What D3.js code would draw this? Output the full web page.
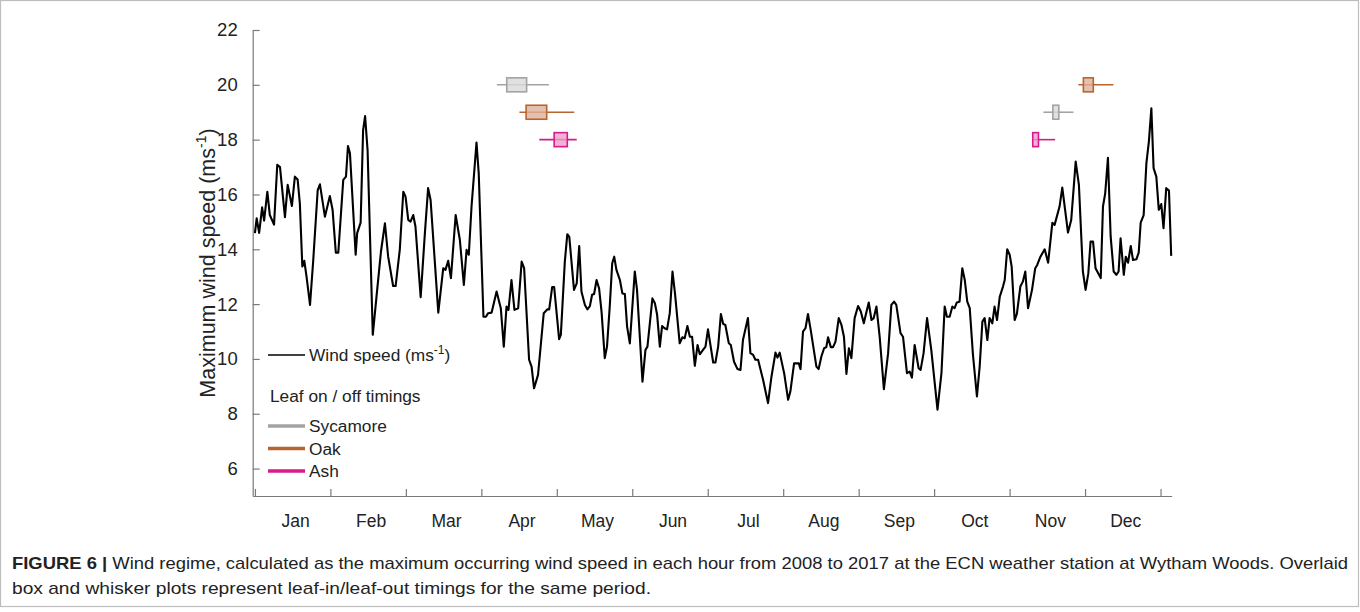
<!DOCTYPE html>
<html>
<head>
<meta charset="utf-8">
<script src="https://cdn.jsdelivr.net/npm/d3@7"></script>
<style>
  html, body { margin: 0; padding: 0; background: #fff; }
  svg { display: block; font-family: "Liberation Sans", Arial, Helvetica, sans-serif; }
</style>
</head>
<body>
<svg id="chart" width="1360" height="612"></svg>
<script>
// Day of year (from 1 Jan) and the maximum hourly wind speed (m/s)
const days = [0,0.7,1.7,2.9,3.7,5.0,6.0,7.7,9.0,10.1,12.1,13.2,14.9,16.1,17.2,18.1,19.1,19.9,20.8,22.2,
  23.5,25.3,26.2,28.2,30.2,31.3,32.6,33.6,35.6,36.7,37.5,38.3,40.6,41.2,42.6,43.6,44.4,45.4,47.5,49.0,
  50.8,52.4,53.7,55.7,56.7,58.4,59.8,60.7,61.8,62.7,63.8,64.7,66.8,68.5,69.8,70.8,73.9,75.9,76.8,77.9,
  79.0,80.9,82.6,84.2,85.3,86.2,87.3,89.3,90.2,92.1,93.1,94.0,95.4,97.4,99.1,100.3,101.4,102.2,103.4,104.6,
  106.1,107.5,108.5,110.5,111.5,112.5,114.1,116.4,117.9,118.6,119.8,120.6,122.6,123.3,124.9,125.9,126.7,128.6,129.7,130.7,
  131.6,133.0,134.0,135.0,135.9,136.7,137.7,138.7,139.7,141.0,141.9,143.0,144.0,144.8,145.7,147.1,148.1,149.1,150.0,151.1,
  153.1,154.0,156.2,157.4,158.2,160.2,161.2,162.1,163.2,164.1,165.1,166.1,167.2,168.3,169.3,171.2,172.3,173.2,174.3,175.3,
  176.2,177.3,178.4,179.3,180.6,181.6,182.6,184.7,185.6,186.7,187.8,188.7,189.6,191.0,191.8,193.1,194.5,195.7,196.7,198.7,
  199.7,200.8,201.7,202.8,204.8,206.8,208.2,209.8,210.6,211.5,213.3,214.9,215.8,217.3,218.2,219.2,219.9,220.9,221.9,222.9,
  224.0,226.3,227.2,228.3,229.4,230.3,231.0,232.1,233.0,234.0,235.3,236.4,237.4,238.4,239.4,240.4,241.7,243.1,244.2,245.4,
  246.2,247.4,248.5,249.4,250.5,251.8,253.5,255.2,256.5,257.6,258.5,260.2,261.2,262.8,263.9,264.8,265.9,267.5,268.3,269.5,
  270.9,272.6,275.1,276.7,278.0,278.9,280.0,281.1,282.0,282.9,284.0,285.1,286.1,287.1,288.1,289.4,291.0,292.1,293.2,294.1,
  295.2,296.1,297.2,298.1,299.1,300.2,301.5,302.2,303.2,304.2,305.0,306.2,307.1,308.5,309.5,310.5,311.6,313.2,314.5,315.3,
  316.6,318.3,319.7,321.4,322.3,324.3,325.4,327.7,329.0,330.8,332.1,333.7,334.8,335.9,336.8,337.8,338.8,340.9,341.8,342.7,
  343.8,344.9,346.1,347.2,348.1,348.9,350.2,351.0,351.9,353.0,353.9,355.3,356.2,357.0,358.2,359.3,360.3,361.3,362.2,363.3,
  364.3,365.3,366.2,367.3,368.4,369.3];
const windSpeed = [14.59,15.13,14.6,15.53,15.05,16.1,15.25,14.9,17.08,17.0,15.17,16.35,15.58,16.65,16.55,15.68,13.37,13.58,13.0,11.97,
  13.6,16.16,16.37,15.19,15.94,15.44,13.88,13.88,16.53,16.65,17.77,17.5,13.8,14.59,14.97,18.35,18.86,17.62,10.88,12.27,
  13.92,14.95,13.73,12.66,12.66,14.0,16.1,15.92,15.07,15.01,15.25,14.83,12.25,14.59,16.23,15.8,11.69,13.31,13.25,13.58,
  12.95,15.25,14.34,12.7,13.98,13.8,15.56,17.89,16.77,11.54,11.54,11.67,11.69,12.46,11.85,10.45,11.91,11.79,12.88,11.79,
  11.85,13.55,13.31,9.97,9.72,8.93,9.42,11.67,11.81,11.81,12.62,12.62,10.72,10.88,13.55,14.55,14.45,12.52,12.76,14.12,
  12.46,11.97,11.81,11.93,12.34,12.37,12.88,12.58,11.73,10.03,10.45,11.91,13.49,13.73,13.25,12.88,12.39,12.37,11.18,10.57,
  13.19,12.52,9.17,10.33,10.45,12.21,12.03,11.61,10.45,11.2,11.12,11.08,11.67,13.19,12.39,10.57,10.79,10.75,11.2,10.81,
  10.81,9.75,10.51,10.17,10.33,10.45,11.08,9.87,9.87,10.45,11.64,11.28,11.24,10.57,10.51,9.9,9.63,9.6,10.69,11.49,
  10.21,10.15,9.97,9.97,9.24,8.39,9.36,10.23,10.05,10.23,9.48,8.51,8.81,9.84,9.84,9.84,9.63,11.0,11.12,11.64,
  11.06,9.72,9.63,10.09,10.39,10.43,10.79,10.43,10.43,10.63,11.49,11.24,10.81,9.45,10.39,10.03,11.49,11.93,11.73,11.3,
  11.61,12.06,11.42,11.49,11.91,10.81,8.9,10.21,11.97,12.09,11.97,10.94,10.81,9.48,9.54,9.32,10.51,9.66,9.6,10.21,
  11.49,10.33,8.15,9.48,11.91,11.54,11.54,11.91,11.85,12.06,12.09,13.31,12.88,12.09,11.85,10.15,8.63,9.72,11.36,11.49,
  10.69,11.49,11.3,11.91,11.42,12.27,12.64,12.88,14.0,13.8,13.37,11.42,11.64,12.64,12.82,13.19,11.85,12.52,13.31,13.43,
  13.73,14.0,13.51,14.97,14.89,15.56,16.25,14.61,15.07,17.2,16.35,13.19,12.52,13.13,14.28,14.28,13.31,12.95,15.56,16.04,
  17.34,14.46,13.19,13.07,13.19,14.4,13.07,13.73,13.51,14.12,13.61,13.64,13.88,14.97,15.25,17.14,17.93,19.14,16.96,16.65,
  15.44,15.65,14.77,16.23,16.14,13.76];

// Month tick labels (equal-width months across the year)
const months = ["Jan","Feb","Mar","Apr","May","Jun","Jul","Aug","Sep","Oct","Nov","Dec"];
const yTicks = [6, 8, 10, 12, 14, 16, 18, 20, 22];

// Leaf-on / leaf-off box plots: species, row value, whisker min, Q1, Q3, whisker max (day of year)
const boxSpecies = ["Sycamore","Oak","Ash","Oak","Sycamore","Ash"];
const boxRow     = [20, 19, 18, 20, 19, 18];
const boxMin     = [97.5, 106.6, 114.6, 331.9, 317.8, 313.5];
const boxQ1      = [101.5, 109.3, 120.6, 333.9, 321.6, 313.5];
const boxQ3      = [109.5, 117.6, 125.9, 337.9, 324.0, 315.8];
const boxMax     = [118.5, 128.7, 129.7, 346.0, 329.9, 322.5];

const legendSpecies = ["Sycamore", "Oak", "Ash"];

const speciesStroke = { Sycamore: "#a3a3a3", Oak: "#b8642f", Ash: "#d81b8c" };
const speciesFill   = { Sycamore: "#d9d9d9", Oak: "#dcb29a", Ash: "#ef9fcb" };

const svg = d3.select("#chart");

// Figure frame
svg.append("rect")
  .attr("x", 0.5).attr("y", 0.5).attr("width", 1358).attr("height", 606)
  .attr("fill", "none").attr("stroke", "#bdbdbd").attr("stroke-width", 1.2);

const x = d3.scaleLinear().domain([-0.9, 369.5]).range([252.7, 1171.7]);
const y = d3.scaleLinear().domain([5, 22]).range([496, 30]);

const axisColor = "#7a7a7a";

// Y axis with inward ticks
const yAxis = svg.append("g")
  .attr("transform", `translate(${x(-0.9)},0)`)
  .call(d3.axisLeft(y).tickValues(yTicks).tickSize(-7).tickPadding(15).tickSizeOuter(0));
yAxis.select(".domain").attr("stroke", axisColor).attr("stroke-width", 1.2);
yAxis.selectAll(".tick line").attr("stroke", axisColor).attr("stroke-width", 1.2);
yAxis.selectAll(".tick text").attr("fill", "#222").style("font-size", "18.5px");

// X axis: month boundaries as inward ticks, month names centred between them
const monthLen = 365 / 12;
const xAxis = svg.append("g")
  .attr("transform", `translate(0,${y(5)})`)
  .call(d3.axisBottom(x).tickValues(d3.range(13).map(i => i * monthLen)).tickSize(-7).tickFormat("").tickSizeOuter(0));
xAxis.select(".domain").attr("stroke", axisColor).attr("stroke-width", 1.2);
xAxis.selectAll(".tick line").attr("stroke", axisColor).attr("stroke-width", 1.2);

svg.append("g").selectAll("text")
  .data(months)
  .join("text")
  .attr("x", (d, i) => x((i + 0.5) * monthLen) + 3)
  .attr("y", y(5) + 31)
  .attr("text-anchor", "middle")
  .attr("fill", "#222")
  .style("font-size", "17.5px")
  .text(d => d);

// Y axis title
const yTitle = svg.append("text")
  .attr("transform", `translate(215,${(y(5) + y(22)) / 2}) rotate(-90)`)
  .attr("text-anchor", "middle")
  .attr("fill", "#222")
  .style("font-size", "21.5px");
yTitle.append("tspan").text("Maximum wind speed (ms");
yTitle.append("tspan").attr("dy", -9).style("font-size", "14px").text("-1");
yTitle.append("tspan").attr("dy", 9).text(")");

// Wind speed line
const series = days.map((d, i) => ({ day: d, value: windSpeed[i] }));
svg.append("path")
  .datum(series)
  .attr("fill", "none")
  .attr("stroke", "#000")
  .attr("stroke-width", 2.1)
  .attr("stroke-linejoin", "round")
  .attr("d", d3.line().x(d => x(d.day)).y(d => y(d.value)));

// Box and whisker plots of leaf timing
const boxes = boxSpecies.map((s, i) => ({
  species: s, row: boxRow[i], min: boxMin[i], q1: boxQ1[i], q3: boxQ3[i], max: boxMax[i]
}));
const bh = 7;
const bg = svg.append("g");
boxes.forEach(b => {
  bg.append("line")
    .attr("x1", x(b.min)).attr("x2", x(b.max))
    .attr("y1", y(b.row)).attr("y2", y(b.row))
    .attr("stroke", speciesStroke[b.species]).attr("stroke-width", 1.6);
  bg.append("rect")
    .attr("x", x(b.q1)).attr("y", y(b.row) - bh)
    .attr("width", Math.max(x(b.q3) - x(b.q1), 1)).attr("height", 2 * bh)
    .attr("fill", speciesFill[b.species]).attr("fill-opacity", 0.8)
    .attr("stroke", speciesStroke[b.species]).attr("stroke-width", 1.6);
});

// Legend
const lg = svg.append("g").style("font-size", "17.3px").attr("fill", "#222");
lg.append("line").attr("x1", 268).attr("x2", 305).attr("y1", 355).attr("y2", 355)
  .attr("stroke", "#000").attr("stroke-width", 1.5);
const lt = lg.append("text").attr("x", 309).attr("y", 361);
lt.append("tspan").text("Wind speed (ms");
lt.append("tspan").attr("dy", -7).style("font-size", "12px").text("-1");
lt.append("tspan").attr("dy", 7).text(")");
lg.append("text").attr("x", 270).attr("y", 402).text("Leaf on / off timings");
legendSpecies.forEach((s, i) => {
  const yy = 426 + i * 22.5;
  lg.append("line").attr("x1", 268).attr("x2", 305).attr("y1", yy).attr("y2", yy)
    .attr("stroke", speciesStroke[s]).attr("stroke-width", 3.5);
  lg.append("text").attr("x", 309).attr("y", yy + 6).text(s);
});

// Caption
const cap = svg.append("g").style("font-size", "17px").attr("fill", "#222");
const c1 = cap.append("text").attr("x", 12).attr("y", 569)
  .attr("textLength", 1336).attr("lengthAdjust", "spacingAndGlyphs");
c1.append("tspan").style("font-weight", "bold").text("FIGURE 6 | ");
c1.append("tspan").text("Wind regime, calculated as the maximum occurring wind speed in each hour from 2008 to 2017 at the ECN weather station at Wytham Woods. Overlaid");
cap.append("text").attr("x", 12).attr("y", 594)
  .attr("textLength", 639).attr("lengthAdjust", "spacingAndGlyphs")
  .text("box and whisker plots represent leaf-in/leaf-out timings for the same period.");
</script>
</body>
</html>
